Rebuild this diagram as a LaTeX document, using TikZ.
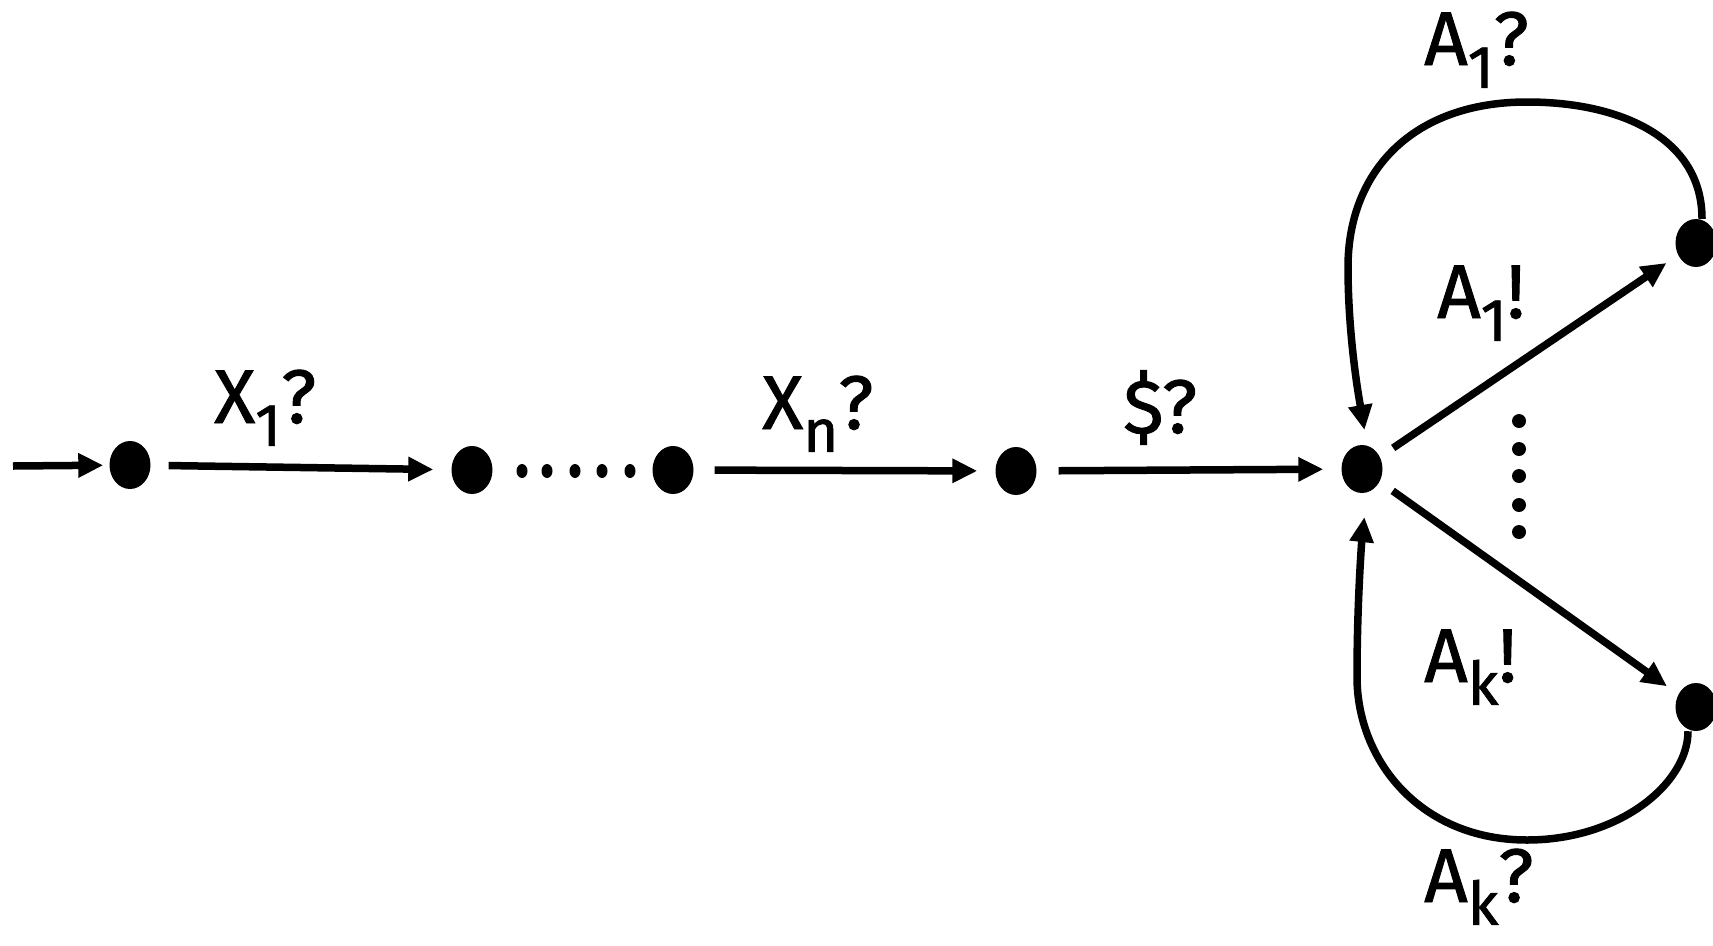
\documentclass[tikz,border=0pt]{standalone}
\usepackage{fontspec}
\setmainfont{Fira Sans}
\newfontfamily\lblfont{Fira Sans}[FakeBold=1.2]
\usetikzlibrary{arrows.meta,shapes.geometric}
\newcommand{\lowsub}[1]{\raisebox{-0.3em}{\fontsize{60}{64}\selectfont #1}}
\tikzset{
  state/.style={ellipse,fill=black,draw=none,minimum width=41pt,minimum height=48pt,inner sep=0pt},
  arr/.style={line width=7.5pt,-{Triangle[length=25pt,width=23pt]}},
  lbl/.style={anchor=base west,inner sep=0pt,font=\lblfont\fontsize{76}{80}\selectfont},
  dotm/.style={ellipse,fill=black,inner sep=0pt,minimum width=11pt,minimum height=14pt},
  dotv/.style={circle,fill=black,inner sep=0pt,minimum size=14pt}
}
\begin{document}
\begin{tikzpicture}[x=1pt,y=-1pt]
\useasboundingbox (0,0) rectangle (1713,945);
% nodes
\coordinate (s) at (13,466);
\node[state] (n1) at (130,465) {};
\node[state] (n2) at (472,470) {};
\node[state] (n3) at (673,470) {};
\node[state] (n4) at (1016,471) {};
\node[state] (hub) at (1362,469) {};
\node[state] (tr) at (1696,243) {};
\node[state] (br) at (1696,707) {};
% loop helper coordinates
\coordinate (ta) at (1527,102);
\coordinate (tl) at (1348,267);
\coordinate (ba) at (1527,840);
\coordinate (bl) at (1357,677);
% dots
\foreach \x in {522,547,575,602,630} \node[dotm] at (\x,471) {};
\foreach \y in {421,449,476,505,532} \node[dotv] at (1519,\y) {};
% straight arrows
\draw[arr,shorten >=6pt] (s) -- (n1);
\draw[arr,shorten <=18pt,shorten >=18pt] (n1) -- (n2);
\draw[arr,shorten <=21pt,shorten >=18pt] (n3) -- (n4);
\draw[arr,shorten <=22pt,shorten >=18pt] (n4) -- (hub);
\draw[arr,shorten <=16pt,shorten >=14pt] (hub) -- (tr);
\draw[arr,shorten <=16pt,shorten >=14pt] (hub) -- (br);
% loops
\draw[arr,shorten >=15pt] ([xshift=6pt]tr.north) .. controls +(0,-80) and +(95,0) .. (ta)
  .. controls +(-115,0) and +(0,-95) .. (tl)
  .. controls +(0,73) and +(-7,-41) .. ([xshift=5pt]hub.north);
\draw[arr,shorten >=24pt] ([xshift=-8pt]br.south) .. controls +(0,52) and +(93,0) .. (ba)
  .. controls +(-107,0) and +(0,83) .. (bl)
  .. controls +(0,-77) and +(-5,45) .. ([xshift=5pt]hub.south);
% labels
\node[lbl] (l1) at (214,423) {X\lowsub{1}?};
\node[lbl] (l2) at (762,429) {X\lowsub{n}?};
\node[lbl] (l3) at (1123,433) {\$?};
\node[lbl] (l4) at (1424,65) {A\lowsub{1}?};
\node[lbl] (l5) at (1437,318) {A\lowsub{1}!};
\node[lbl] (l6) at (1424,682) {A\lowsub{k}!};
\node[lbl] (l7) at (1424,902) {A\lowsub{k}?};
\end{tikzpicture}
\end{document}
